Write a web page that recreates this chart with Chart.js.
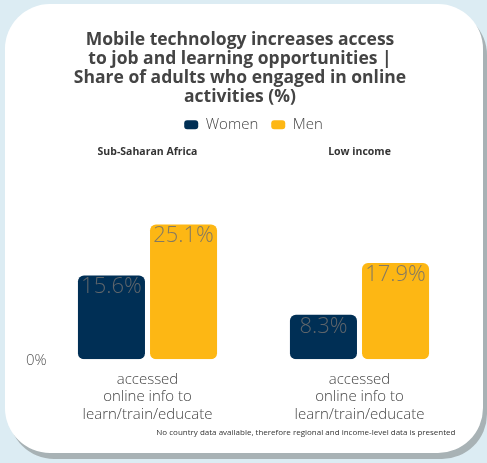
<!DOCTYPE html>
<html>
<head>
<meta charset="utf-8">
<script src="https://cdn.jsdelivr.net/npm/chart.js@4"></script>
<style>
  html, body { margin: 0; padding: 0; }
  body { width: 487px; height: 463px; background: #dcecf3; position: relative; overflow: hidden; }
  .card { position: absolute; left: 5px; top: 4px; width: 478px; height: 449px; background: #fff;
          border-radius: 45px; box-shadow: 4px 6px 0 #a8b2b5; }
  .wrap { position: absolute; left: 0; top: 0; width: 487px; height: 463px; }
</style>
</head>
<body>
<div class="card"></div>
<div class="wrap"><canvas id="c"></canvas></div>
<script>
// Panels, indicator and series values
const regions = ['Sub-Saharan Africa', 'Low income'];
const indicator = ['accessed', 'online info to', 'learn/train/educate'];
const seriesNames = ['Women', 'Men'];
const women = [15.6, 8.3];
const men = [25.1, 17.9];
const yTicks = [0];
const titleLines = [
  'Mobile technology increases access',
  'to job and learning opportunities |',
  'Share of adults who engaged in online',
  'activities (%)'
];
const footnote = 'No country data available, therefore regional and income-level data is presented';

const NAVY = '#002f55';
const GOLD = '#fdb714';
const FONT = "'Open Sans', sans-serif";

// Value labels written inside the top of each bar
const valueLabels = {
  id: 'valueLabels',
  afterDatasetsDraw(chart) {
    const ctx = chart.ctx;
    ctx.save();
    ctx.font = '300 22px ' + FONT;
    ctx.fillStyle = 'rgba(110,110,110,0.85)';
    ctx.textAlign = 'center';
    ctx.textBaseline = 'alphabetic';
    chart.data.datasets.forEach((ds, i) => {
      chart.getDatasetMeta(i).data.forEach((bar, j) => {
        ctx.fillText(ds.data[j].toFixed(1) + '%', bar.x, bar.y + 18);
      });
    });
    ctx.restore();
  }
};

// Source note under the indicator labels
const footNote = {
  id: 'footNote',
  afterDraw(chart) {
    const ctx = chart.ctx;
    const area = chart.chartArea;
    ctx.save();
    ctx.font = '8px ' + FONT;
    ctx.fillStyle = '#333';
    ctx.textAlign = 'right';
    ctx.textBaseline = 'middle';
    ctx.fillText(footnote, area.right - 10, area.bottom + 73);
    ctx.restore();
  }
};

new Chart(document.getElementById('c'), {
  type: 'bar',
  data: {
    labels: regions.map(() => indicator),
    datasets: [
      { label: seriesNames[0], data: women, backgroundColor: NAVY },
      { label: seriesNames[1], data: men, backgroundColor: GOLD }
    ]
  },
  options: {
    responsive: true,
    maintainAspectRatio: false,
    animation: false,
    layout: { padding: { left: 14.5, right: 21.5, top: 0, bottom: 36 } },
    datasets: {
      bar: {
        barPercentage: 0.93,
        categoryPercentage: 0.68,
        borderRadius: 6,
        borderSkipped: false
      }
    },
    plugins: {
      title: {
        display: true,
        text: titleLines,
        color: '#444',
        font: { family: FONT, size: 17.5, weight: 'bold', lineHeight: 1.09 },
        padding: { top: 30, bottom: -2 }
      },
      legend: {
        display: true,
        fullSize: false,
        maxHeight: 33,
        labels: {
          color: '#444',
          font: { family: FONT, size: 15, weight: '300' },
          boxWidth: 14,
          boxHeight: 9,
          useBorderRadius: true,
          borderRadius: 3,
          padding: 13
        }
      },
      tooltip: { enabled: false }
    },
    scales: {
      x: {
        position: 'bottom',
        grid: { display: false },
        border: { display: false },
        ticks: {
          color: '#444',
          font: { family: FONT, size: 15, weight: '300', lineHeight: 1.15 },
          padding: 4,
          maxRotation: 0,
          autoSkip: false
        }
      },
      x2: {
        type: 'category',
        position: 'top',
        labels: regions,
        grid: { display: false },
        border: { display: false },
        ticks: {
          color: '#333',
          font: { family: FONT, size: 10.5, weight: 'bold' },
          padding: 8,
          maxRotation: 0,
          autoSkip: false
        }
      },
      y: {
        min: 0,
        max: 34.5,
        grid: { display: false, drawTicks: false },
        border: { display: false },
        afterBuildTicks(scale) { scale.ticks = yTicks.map(v => ({ value: v })); },
        afterFit(scale) { scale.width = 27; },
        ticks: {
          color: '#555',
          font: { family: FONT, size: 15, weight: '300' },
          mirror: true,
          padding: -15.5,
          labelOffset: 1,
          callback: v => v + '%'
        }
      }
    }
  },
  plugins: [valueLabels, footNote]
});
</script>
</body>
</html>
